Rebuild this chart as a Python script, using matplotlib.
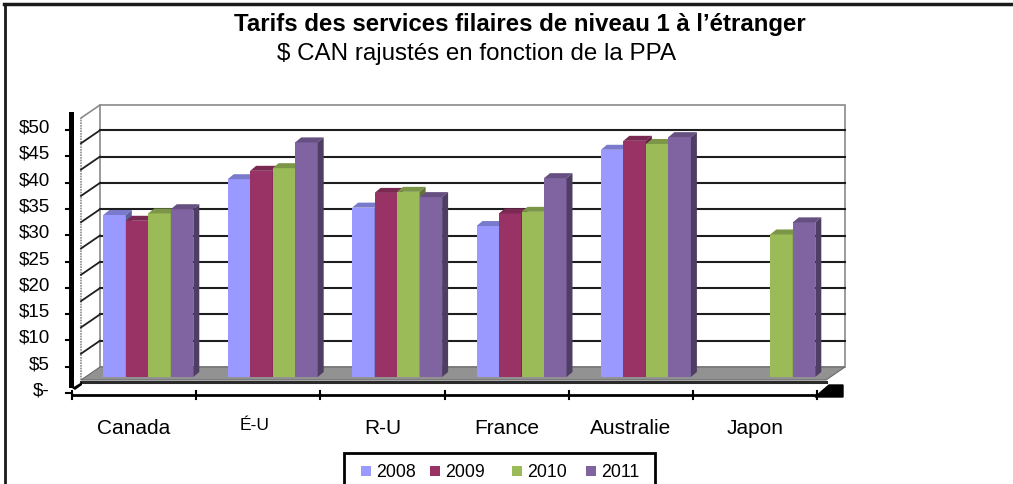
import matplotlib
matplotlib.use("Agg")
import matplotlib.pyplot as plt
import numpy as np
from matplotlib.patches import Polygon, Rectangle

plt.rcParams['font.family'] = ['Liberation Sans', 'DejaVu Sans']

# data ($ CAN, PPP adjusted)
countries = ["Canada", "É-U", "R-U", "France", "Australie", "Japon"]
years = ["2008", "2009", "2010", "2011"]
rates_2008 = [30.8, 37.6, 32.2, 28.7, 43.2, np.nan]
rates_2009 = [29.7, 39.2, 35.0, 31.1, 44.9, np.nan]
rates_2010 = [31.1, 39.7, 35.2, 31.4, 44.3, 27.1]
rates_2011 = [31.9, 44.6, 34.2, 37.8, 45.6, 29.4]
y_ticks = [0, 5, 10, 15, 20, 25, 30, 35, 40, 45, 50]
y_labels = ["$-"] + ["$%d" % v for v in y_ticks[1:]]

colors = ["#9999FF", "#993366", "#9BBB59", "#8064A2"]

W, H = 1013, 484
# pixel <-> data mapping for the pseudo-3D drawing
X0, SX = 148.3, 124.4     # category 0 centre, px per category
Y0, SY = 377.0, 5.26      # bar base, px per dollar


def px2x(p):
    return (p - X0) / SX


def px2y(p):
    return (Y0 - p) / SY


fig = plt.figure(figsize=(W / 100, H / 100), dpi=100)
ax = fig.add_axes([0, 0, 1, 1])
ax.set_xlim(px2x(0), px2x(W))
ax.set_ylim(px2y(H), px2y(0))
ax.axis("off")

# ---- walls and floor ----
wall_l, wall_r = px2x(100), px2x(845)
wall_b, wall_t = px2y(367), px2y(105)
side_dx = wall_l - px2x(81)
side_dy = px2y(367) - px2y(380)

ax.add_patch(Rectangle((wall_l, wall_b), wall_r - wall_l, wall_t - wall_b,
                       facecolor="white", edgecolor="#8a8a8a", lw=1.2, zorder=1))
# side wall
ax.plot([wall_l - side_dx, wall_l - side_dx], [wall_b - side_dy, wall_t - side_dy],
        color="#8a8a8a", lw=1.2, ls=(0, (1, 0.6)), zorder=1)
ax.plot([wall_l - side_dx, wall_l], [wall_t - side_dy, wall_t],
        color="#8a8a8a", lw=1.2, zorder=1)
for v in y_ticks[1:-1]:
    yy = v + wall_b
    ax.plot([wall_l, wall_r], [yy, yy], color="#1e1e1e", lw=1.5, zorder=2)
    ax.plot([wall_l - side_dx, wall_l], [yy - side_dy, yy], color="#1e1e1e", lw=1.3, zorder=2)

# floor
floor = Polygon([(wall_l, wall_b), (wall_r, wall_b),
                 (wall_r - side_dx, wall_b - side_dy), (wall_l - side_dx, wall_b - side_dy)],
                closed=True, facecolor="#929292", edgecolor="#6a6a6a", lw=0.8, zorder=3)
ax.add_patch(floor)
ax.plot([wall_l - side_dx, wall_r - side_dx], [px2y(382), px2y(382)],
        color="#2a2a2a", lw=2.2, zorder=3)
ax.add_patch(Polygon([(px2x(815), px2y(397)), (px2x(829), px2y(385)),
                      (px2x(843), px2y(385)), (px2x(843), px2y(397))],
                     closed=True, facecolor="black", edgecolor="black", zorder=3))

# left black strip and value axis
ax.add_patch(Rectangle((px2x(69), px2y(388)), px2x(74) - px2x(69), px2y(112) - px2y(388),
                       facecolor="black", edgecolor="none", zorder=3))
ax.add_patch(Polygon([(px2x(72), px2y(388)), (px2x(82), px2y(382)),
                      (px2x(82), px2y(385)), (px2x(75), px2y(390))],
                     closed=True, facecolor="black", edgecolor="none", zorder=3))
axis_off = px2y(393)
for v, lab in zip(y_ticks, y_labels):
    ax.plot([px2x(66), px2x(72)], [v + axis_off, v + axis_off], color="black", lw=1.5, zorder=4)
    ax.text(px2x(50), v + axis_off + 2 / SY, lab, ha="right", va="center", fontsize=13.5)

# category axis
ax.plot([px2x(72), px2x(817)], [px2y(395), px2y(395)], color="black", lw=2, zorder=4)
cat_step = (817 - 72) / 6.0
for k in range(7):
    xb = px2x(72 + k * cat_step)
    ax.plot([xb, xb], [px2y(391), px2y(399)], color="black", lw=1.5, zorder=4)
for k, name in enumerate(countries):
    xc = px2x(72 + (k + 0.5) * cat_step)
    if name == "É-U":
        ax.text(xc - 4 / SX, px2y(430.5), name, ha="center", va="baseline", fontsize=12.5)
    else:
        ax.text(xc, px2y(434), name, ha="center", va="baseline", fontsize=15)

# ---- bars ----
series = [rates_2008, rates_2009, rates_2010, rates_2011]
bar_w = 22.5 / SX
dx, dy = 6 / SX, 5 / SY
idx = np.arange(len(countries))


def shade(c, f):
    rgb = np.array(matplotlib.colors.to_rgb(c))
    return tuple(rgb * f)


for i in idx:
    for j, vals in enumerate(series):
        h = vals[i]
        if np.isnan(h):
            continue
        xl = i + (j - 2) * bar_w
        z = 5 + i * 4 + j
        ax.bar(xl, h, width=bar_w, align="edge", color=colors[j], edgecolor="none", zorder=z)
        ax.add_patch(Polygon([(xl, h), (xl + bar_w, h), (xl + bar_w + dx, h + dy), (xl + dx, h + dy)],
                             closed=True, facecolor=shade(colors[j], 0.8), edgecolor="none", zorder=z))
        ax.add_patch(Polygon([(xl + bar_w, 0), (xl + bar_w + dx, dy), (xl + bar_w + dx, h + dy), (xl + bar_w, h)],
                             closed=True, facecolor=shade(colors[j], 0.62), edgecolor="none", zorder=z))

# ---- titles ----
fig.text(519.5 / W, 1 - 31 / H, "Tarifs des services filaires de niveau 1 à l’étranger",
         ha="center", va="baseline", fontsize=17.3, fontweight="bold")
fig.text(277 / W, 1 - 59.5 / H, "$ CAN rajustés en fonction de la PPA",
         ha="left", va="baseline", fontsize=17.4)

# ---- legend ----
fig.patches.append(Rectangle((344 / W, 1 - 490 / H), 311 / W, 37 / H, transform=fig.transFigure,
                             facecolor="white", edgecolor="black", lw=2, figure=fig))
leg_x = [361, 430, 512, 586]
for xm, yr, c in zip(leg_x, years, colors):
    fig.patches.append(Rectangle((xm / W, 1 - 476 / H), 10 / W, 10 / H, transform=fig.transFigure,
                                 facecolor=c, edgecolor="none", figure=fig))
    fig.text((xm + 15) / W, 1 - 477 / H, yr, ha="left", va="baseline", fontsize=12.8)

# ---- outer border ----
fig.add_artist(plt.Line2D([4 / W, 1], [1 - 4 / H, 1 - 4 / H], transform=fig.transFigure,
                          color="#1a1a1a", lw=2.5))
fig.add_artist(plt.Line2D([5 / W, 5 / W], [0, 1 - 4 / H], transform=fig.transFigure,
                          color="#1a1a1a", lw=2))

fig.savefig("out.png", dpi=100)
